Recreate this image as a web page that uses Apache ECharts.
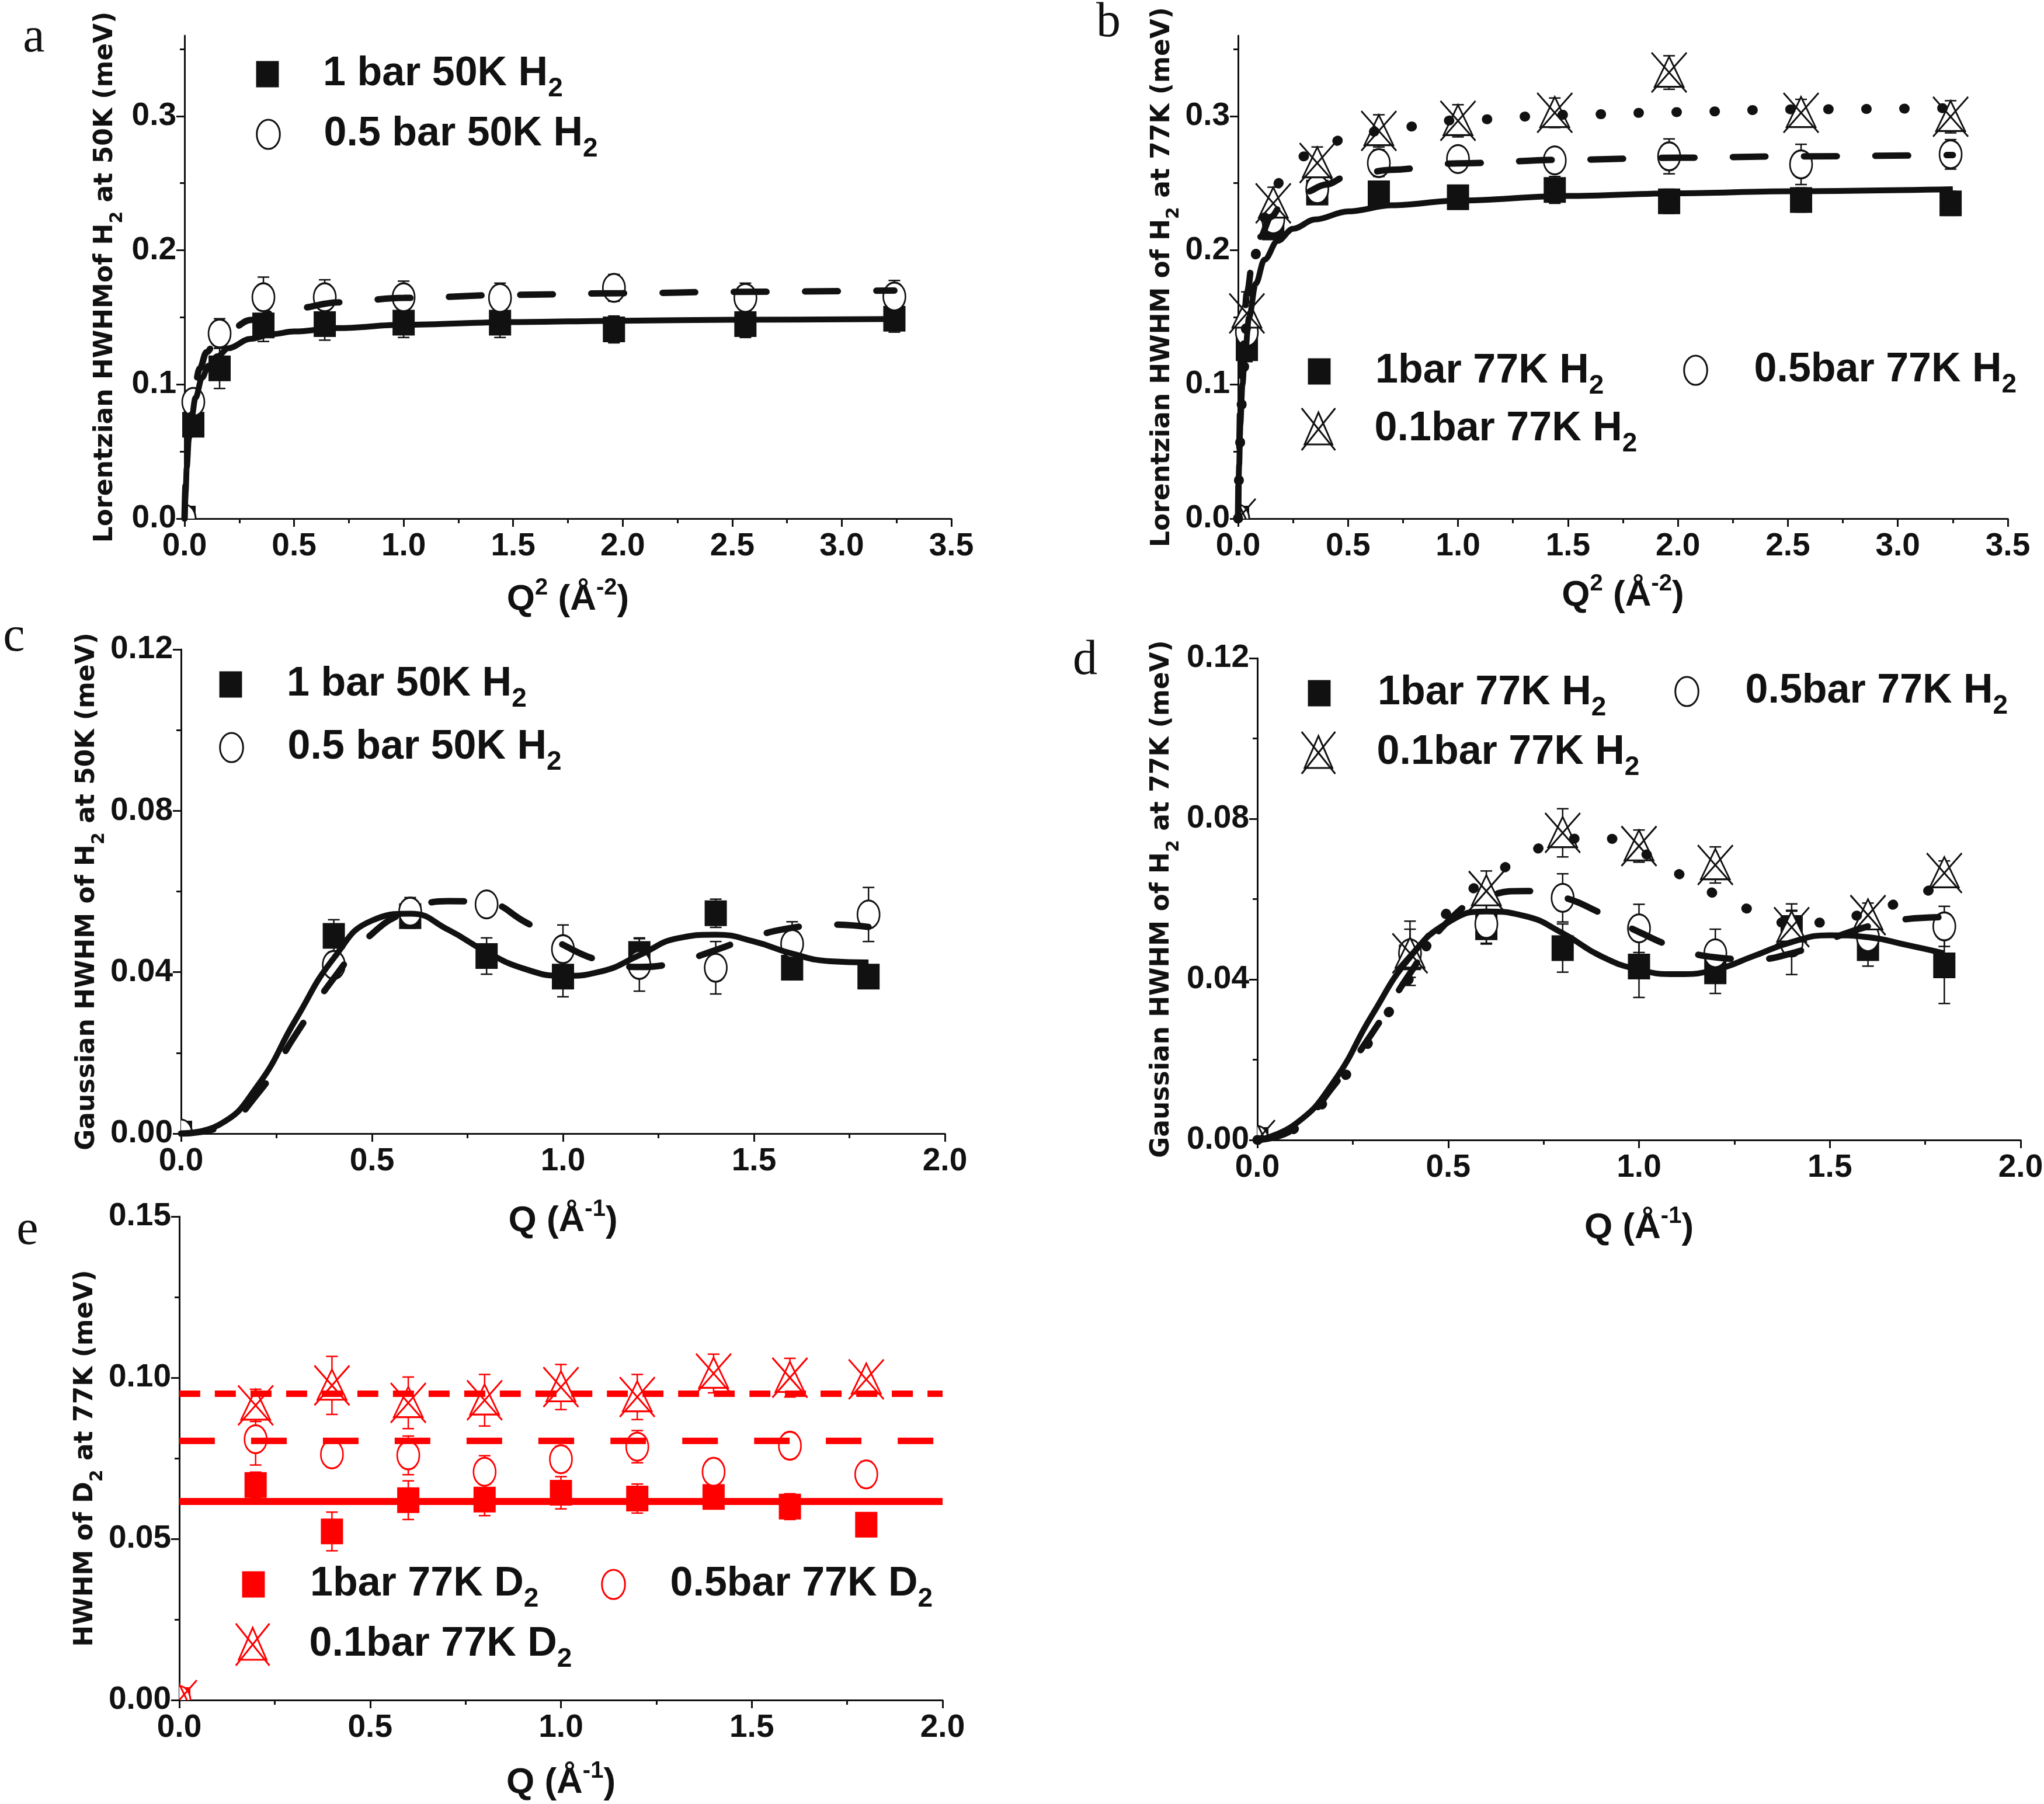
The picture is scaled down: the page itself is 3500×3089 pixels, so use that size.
<!DOCTYPE html>
<html>
<head>
<meta charset="utf-8">
<script src="https://cdn.jsdelivr.net/npm/echarts@6/dist/echarts.min.js"></script>
<style>
  html, body { margin: 0; padding: 0; background: #fff; }
  #chart { width: 3500px; height: 3089px; }
</style>
</head>
<body>
<div id="chart"></div>
<script>
// ── tick values ──
var abXTicks = [0, 0.5, 1.0, 1.5, 2.0, 2.5, 3.0, 3.5];
var abXMinor = [0.25, 0.75, 1.25, 1.75, 2.25, 2.75, 3.25];
var abYTicks = [0, 0.1, 0.2, 0.3];
var abYMinor = [0.05, 0.15, 0.25, 0.35];
var cdeXTicks = [0, 0.5, 1.0, 1.5, 2.0];
var cdeXMinor = [0.25, 0.75, 1.25, 1.75];
var cdYTicks = [0, 0.04, 0.08, 0.12];
var cdYMinor = [0.02, 0.06, 0.10];
var eYTicks = [0, 0.05, 0.10, 0.15];
var eYMinor = [0.025, 0.075, 0.125];

// ── panel a : Lorentzian HWHM, 50 K (x = Q^2) ──
var q2Pts = [0, 0.04, 0.16, 0.36, 0.64, 1.0, 1.44, 1.96, 2.56, 3.24];
var aHwhm1bar = [0, 0.070, 0.112, 0.144, 0.145, 0.146, 0.146, 0.141, 0.145, 0.149];
var aErr1bar = [0, 0.008, 0.015, 0.012, 0.012, 0.011, 0.011, 0.010, 0.010, 0.010];
var aHwhm05bar = [0, 0.087, 0.138, 0.165, 0.165, 0.165, 0.1645, 0.172, 0.1645, 0.1655];
var aErr05bar = [0, 0.009, 0.011, 0.015, 0.013, 0.012, 0.011, 0.010, 0.011, 0.012];
var aFit1barX = [0, 0.005, 0.01, 0.02, 0.03, 0.05, 0.08, 0.11, 0.15, 0.2, 0.3, 0.4, 0.5, 0.7, 1.0, 1.5, 2.0, 2.5, 3.24];
var aFit1barY = [0, 0.02, 0.038, 0.06, 0.073, 0.09, 0.105, 0.114, 0.121, 0.127, 0.134, 0.1375, 0.1395, 0.142, 0.1445, 0.1465, 0.1475, 0.1482, 0.1488];
var aFit05barX = [0, 0.005, 0.01, 0.02, 0.04, 0.07, 0.1, 0.15, 0.2, 0.3, 0.4, 0.5, 0.7, 1.0, 1.5, 2.0, 2.5, 3.24];
var aFit05barY = [0, 0.025, 0.045, 0.07, 0.094, 0.112, 0.124, 0.134, 0.14, 0.148, 0.153, 0.1565, 0.1612, 0.1645, 0.1668, 0.168, 0.169, 0.17];

// ── panel b : Lorentzian HWHM, 77 K (x = Q^2) ──
var bHwhm1bar = [0, 0.127, 0.217, 0.243, 0.2425, 0.2395, 0.245, 0.2365, 0.2375, 0.235];
var bErr1bar = [0, 0.010, 0.008, 0.008, 0.009, 0.008, 0.010, 0.009, 0.009, 0.009];
var bHwhm05bar = [0, 0.139, 0.223, 0.2455, 0.265, 0.268, 0.267, 0.270, 0.264, 0.2715];
var bErr05bar = [0, 0.010, 0.010, 0.010, 0.010, 0.009, 0.009, 0.013, 0.015, 0.011];
var bHwhm01bar = [0, 0.153, 0.235, 0.265, 0.289, 0.2965, 0.3025, 0.3325, 0.3025, 0.2995];
var bErr01bar = [0, 0.016, 0.012, 0.012, 0.012, 0.012, 0.011, 0.0125, 0.010, 0.012];
var bFit1barX = [0, 0.005, 0.01, 0.02, 0.03, 0.05, 0.08, 0.12, 0.18, 0.25, 0.35, 0.5, 0.7, 1.0, 1.5, 2.0, 2.5, 3.25];
var bFit1barY = [0, 0.04, 0.07, 0.1, 0.12, 0.15, 0.175, 0.193, 0.207, 0.216, 0.223, 0.229, 0.2335, 0.237, 0.2405, 0.2425, 0.244, 0.2455];
var bFitX = [0, 0.005, 0.01, 0.02, 0.04, 0.07, 0.1, 0.15, 0.2, 0.3, 0.4, 0.5, 0.7, 1.0, 1.5, 2.0, 2.5, 3.25];
var bFit05barY = [0, 0.05, 0.085, 0.125, 0.168, 0.197, 0.21, 0.225, 0.234, 0.243, 0.249, 0.2555, 0.26, 0.2648, 0.2675, 0.269, 0.27, 0.271];
var bFit01barY = [0, 0.032, 0.058, 0.097, 0.148, 0.19, 0.215, 0.24, 0.253, 0.27, 0.279, 0.284, 0.291, 0.297, 0.301, 0.303, 0.305, 0.306];

// ── panel c : Gaussian HWHM, 50 K (x = Q) ──
var qPtsCD = [0, 0.4, 0.6, 0.8, 1.0, 1.2, 1.4, 1.6, 1.8];
var cHwhm1bar = [0, 0.049, 0.0539, 0.044, 0.0389, 0.0445, 0.0546, 0.0411, 0.0389];
var cErr1bar = [0, 0.004, 0.003, 0.0045, 0.005, 0.004, 0.0035, 0.003, 0.0025];
var cHwhm05bar = [0, 0.0418, 0.055, 0.0568, 0.0457, 0.0418, 0.0411, 0.047, 0.0543];
var cErr05bar = [0, 0.002, 0.0035, 0.002, 0.006, 0.0065, 0.0065, 0.0055, 0.0067];
var cdFitX = [0, 0.1, 0.2, 0.3, 0.4, 0.5, 0.6, 0.7, 0.8, 0.9, 1.0, 1.1, 1.2, 1.3, 1.4, 1.5, 1.6, 1.7, 1.8];
var cFit1barY = [0, 0.0022, 0.0118, 0.0282, 0.0435, 0.0528, 0.0545, 0.0505, 0.045, 0.0408, 0.0391, 0.0402, 0.0442, 0.0484, 0.0493, 0.0476, 0.0446, 0.0427, 0.0424];
var cFit05barY = [0, 0.0015, 0.0098, 0.0245, 0.0385, 0.0495, 0.0553, 0.0576, 0.0572, 0.0525, 0.0468, 0.0428, 0.0413, 0.0425, 0.0455, 0.0488, 0.051, 0.0518, 0.0512];

// ── panel d : Gaussian HWHM, 77 K (x = Q) ──
var dHwhm1bar = [0, 0.0455, 0.053, 0.0478, 0.0432, 0.042, 0.0528, 0.0478, 0.0435];
var dErr1bar = [0, 0.003, 0.004, 0.006, 0.0077, 0.0055, 0.006, 0.0045, 0.0095];
var dHwhm05bar = [0, 0.0465, 0.0538, 0.0603, 0.0527, 0.0465, 0.0492, 0.0505, 0.0532];
var dErr05bar = [0, 0.008, 0.005, 0.006, 0.006, 0.006, 0.008, 0.005, 0.005];
var dHwhm01bar = [0, 0.0465, 0.062, 0.0765, 0.0732, 0.0685, 0.053, 0.056, 0.0665];
var dErr01bar = [0, 0.006, 0.005, 0.006, 0.004, 0.0045, 0.004, 0.003, 0.003];
var dFit1barY = [0, 0.004, 0.0145, 0.031, 0.0455, 0.0542, 0.0569, 0.0558, 0.0515, 0.0458, 0.0424, 0.0413, 0.0424, 0.0458, 0.0493, 0.051, 0.0505, 0.0486, 0.0465];
var dFit05barY = [0, 0.003, 0.0135, 0.0265, 0.0415, 0.0545, 0.0605, 0.062, 0.0605, 0.0565, 0.0518, 0.0478, 0.0455, 0.045, 0.0465, 0.05, 0.0532, 0.055, 0.0555];
var dFit01barY = [0, 0.003, 0.0125, 0.0255, 0.0405, 0.057, 0.0648, 0.0705, 0.0748, 0.0752, 0.072, 0.0665, 0.0612, 0.057, 0.054, 0.0543, 0.0568, 0.0598, 0.064];

// ── panel e : HWHM of D2, 77 K (x = Q) ──
var qPtsE = [0, 0.2, 0.4, 0.6, 0.8, 1.0, 1.2, 1.4, 1.6, 1.8];
var eHwhm1bar = [0, 0.0667, 0.0523, 0.062, 0.0622, 0.0643, 0.0625, 0.063, 0.060, 0.0544];
var eErr1bar = [0, 0.004, 0.006, 0.006, 0.005, 0.005, 0.0045, 0.0035, 0.004, 0];
var eHwhm05bar = [0, 0.0809, 0.0762, 0.0759, 0.0708, 0.0747, 0.0786, 0.0708, 0.0789, 0.070];
var eErr05bar = [0, 0.008, 0.003, 0.006, 0.005, 0.004, 0.005, 0.004, 0.004, 0.004];
var eHwhm01bar = [0, 0.0914, 0.0976, 0.0922, 0.093, 0.0971, 0.094, 0.1013, 0.100, 0.0995];
var eErr01bar = [0, 0.005, 0.009, 0.008, 0.008, 0.007, 0.007, 0.006, 0.006, 0.002];
var eFitX = [0, 2.0];
var eFit1bar = [0.0616, 0.0616];
var eFit05bar = [0.0804, 0.0804];
var eFit01bar = [0.095, 0.095];

var INK = '#111';
var RED = '#ff0000';
var SANS = '"Liberation Sans", Arial, sans-serif';
var WIDE = '"DejaVu Sans", sans-serif';
var SERIF = '"Liberation Serif", "DejaVu Serif", serif';

// marker shapes (path, size on the plot, legend icon height, aspect of the path box)
var SQUARE = { path: 'path://M0,0L38,0L38,44L0,44Z', size: [38, 44], open: false, lh: 45, aspect: 38 / 44 };
var CIRCLE = { path: 'path://M0,24C0,10.7,8.5,0,19,0C29.5,0,38,10.7,38,24C38,37.3,29.5,48,19,48C8.5,48,0,37.3,0,24Z', size: [38, 48], open: true, lh: 50, aspect: 38 / 48 };
var TRIX = { path: 'path://M44,10L77,86L11,86Z M4,0L84,100 M84,0L4,100', size: [60, 68], open: true, lh: 72, aspect: 0.88 };

var SOLID = { width: 10, type: 'solid' };
var DASH = { width: 11, type: [56, 66], cap: 'round' };
var DOT = { width: 17, type: [1, 64], cap: 'round' };

var option = {
  animation: false,
  backgroundColor: '#fff',
  grid: [], xAxis: [], yAxis: [], series: [], legend: [], graphic: []
};

function tickStyle(len) { return { show: true, inside: false, length: len, lineStyle: { color: INK, width: 3 } }; }

function addAxes(gi, dim, max, ticks, minors, dec, name, gap, nameStyle) {
  var isX = dim === 'x';
  var main = {
    gridIndex: gi, type: 'value', position: isX ? 'bottom' : 'left',
    min: 0, max: max, interval: ticks[1] - ticks[0],
    axisLine: { show: true, onZero: false, lineStyle: { color: INK, width: 3 } },
    axisTick: Object.assign(tickStyle(14), { customValues: ticks }),
    axisLabel: {
      show: true, customValues: ticks, margin: isX ? 20 : 14,
      formatter: function (v) { return v.toFixed(dec); },
      color: INK, fontFamily: SANS, fontWeight: 'bold', fontSize: 55
    },
    splitLine: { show: false },
    name: name, nameLocation: 'middle', nameGap: gap,
    nameRotate: isX ? 0 : 90,
    nameTextStyle: nameStyle
  };
  var minor = {
    gridIndex: gi, type: 'value', position: isX ? 'bottom' : 'left',
    min: 0, max: max,
    axisLine: { show: false, onZero: false },
    axisTick: Object.assign(tickStyle(8), { customValues: minors }),
    axisLabel: { show: false },
    splitLine: { show: false }
  };
  (isX ? option.xAxis : option.yAxis).push(main, minor);
}

var xNameStyle = {
  color: INK, fontFamily: SANS, fontWeight: 'bold', fontSize: 62, lineHeight: 100,
  rich: { p: { color: INK, fontFamily: SANS, fontWeight: 'bold', fontSize: 40, lineHeight: 60, padding: [0, 0, 40, 0] } }
};
var yNameStyle = {
  color: INK, fontFamily: WIDE, fontWeight: 'bold', fontSize: 44, lineHeight: 70,
  rich: { s: { color: INK, fontFamily: WIDE, fontWeight: 'bold', fontSize: 30, lineHeight: 30, padding: [40, 0, 0, 0] } }
};

function pairs(xs, ys) { return xs.map(function (x, i) { return [x, ys[i]]; }); }

function markStyle(shape, color) {
  return shape.open ? { fill: '#fff', stroke: color, lineWidth: 3 } : { fill: color };
}

function scatter(gi, name, xs, ys, shape, color) {
  var all = pairs(xs, ys);
  option.series.push({
    type: 'scatter', name: name, xAxisIndex: 2 * gi, yAxisIndex: 2 * gi,
    data: all.filter(function (p) { return p[0] > 0; }),
    symbol: shape.path, symbolSize: shape.size, z: 3,
    itemStyle: shape.open
      ? { color: '#fff', borderColor: color, borderWidth: 3, opacity: 1 }
      : { color: color, borderWidth: 0, opacity: 1 },
    emphasis: { disabled: true }
  });
  // the point at the origin is drawn clipped by the plot area, as in the figure
  option.series.push({
    type: 'custom', xAxisIndex: 2 * gi, yAxisIndex: 2 * gi, z: 3, silent: true, clip: true,
    data: all.filter(function (p) { return p[0] === 0; }),
    encode: { x: 0, y: 1 },
    renderItem: function (params, api) {
      var c = api.coord([api.value(0), api.value(1)]);
      var w = shape.size[0], h = shape.size[1];
      return { type: 'path', shape: { pathData: shape.path.slice(7), x: c[0] - w / 2, y: c[1] - h / 2, width: w, height: h, layout: 'cover' }, style: markStyle(shape, color) };
    }
  });
}

function errBars(gi, xs, ys, errs, color) {
  option.series.push({
    type: 'custom', xAxisIndex: 2 * gi, yAxisIndex: 2 * gi, z: 2, silent: true,
    data: xs.map(function (x, i) { return [x, ys[i], errs[i]]; }),
    encode: { x: 0, y: 1 },
    renderItem: function (params, api) {
      var x = api.value(0), y = api.value(1), e = api.value(2);
      if (!e) return null;
      var t = api.coord([x, y + e]), b = api.coord([x, y - e]);
      var st = { stroke: color, lineWidth: 2.5 };
      return { type: 'group', children: [
        { type: 'line', shape: { x1: t[0], y1: t[1], x2: b[0], y2: b[1] }, style: st },
        { type: 'line', shape: { x1: t[0] - 10, y1: t[1], x2: t[0] + 10, y2: t[1] }, style: st },
        { type: 'line', shape: { x1: b[0] - 10, y1: b[1], x2: b[0] + 10, y2: b[1] }, style: st }
      ] };
    }
  });
}

function fitLine(gi, xs, ys, color, ls, mono) {
  option.series.push({
    type: 'line', xAxisIndex: 2 * gi, yAxisIndex: 2 * gi, data: pairs(xs, ys),
    showSymbol: false, symbol: 'none', smooth: mono ? 0.35 : 0.5, smoothMonotone: mono ? 'x' : null,
    z: 4, silent: true,
    lineStyle: Object.assign({ color: color }, ls)
  });
}

// cx, cy: centre of the legend marker; tx: left edge of the legend text
function legendItem(name, shape, cx, cy, tx) {
  var W = 2 * (tx - 5 - cx);
  var iconW = shape.lh * shape.aspect;
  var LH = 100;
  option.legend.push({
    data: [name], left: cx - iconW / 2, top: cy - Math.max(shape.lh, LH) / 2,
    padding: 0, itemGap: 0, itemWidth: W, itemHeight: shape.lh, selectedMode: false,
    symbolKeepAspect: true,
    itemStyle: { borderWidth: shape.open ? 3 : 0 },
    formatter: function (n) { return '{m|' + n.slice(0, -1) + '}{s|' + n.slice(-1) + '}'; },
    textStyle: {
      color: INK, fontFamily: SANS, fontWeight: 'bold', fontSize: 70,
      rich: {
        m: { color: INK, fontFamily: SANS, fontWeight: 'bold', fontSize: 70, lineHeight: LH },
        s: { color: INK, fontFamily: SANS, fontWeight: 'bold', fontSize: 46, lineHeight: 50, padding: [50, 0, 0, 0] }
      }
    }
  });
}

function addGrid(box) {
  option.grid.push({ left: box[0], top: box[1], width: box[2] - box[0], height: box[3] - box[1], containLabel: false, outerBoundsMode: 'none' });
  return option.grid.length - 1;
}

function letter(t, x, y) {
  option.graphic.push({ type: 'text', x: x, y: y, style: { text: t, fill: INK, font: '84px ' + SERIF, textAlign: 'center', textVerticalAlign: 'middle' } });
}

// panel a
var ga = addGrid([316, 61, 1629, 888]);
addAxes(ga, 'x', 3.5, abXTicks, abXMinor, 1, 'Q{p|2} (Å{p|-2})', 89, xNameStyle);
addAxes(ga, 'y', 0.36, abYTicks, abYMinor, 1, 'Lorentzian HWHMof H{s|2} at 50K (meV)', 100, yNameStyle);
fitLine(ga, aFit1barX, aFit1barY, INK, SOLID, true);
fitLine(ga, aFit05barX, aFit05barY, INK, DASH, true);
errBars(ga, q2Pts, aHwhm1bar, aErr1bar, INK);
errBars(ga, q2Pts, aHwhm05bar, aErr05bar, INK);
scatter(ga, '1 bar 50K H2', q2Pts, aHwhm1bar, SQUARE, INK);
scatter(ga, '0.5 bar 50K H2', q2Pts, aHwhm05bar, CIRCLE, INK);
legendItem('1 bar 50K H2', SQUARE, 458, 129, 553);
legendItem('0.5 bar 50K H2', CIRCLE, 458, 232, 553);

// panel b
var gb = addGrid([2120, 61, 3438, 888]);
addAxes(gb, 'x', 3.5, abXTicks, abXMinor, 1, 'Q{p|2} (Å{p|-2})', 82, xNameStyle);
addAxes(gb, 'y', 0.36, abYTicks, abYMinor, 1, 'Lorentzian HWHM of H{s|2} at 77K (meV)', 85, yNameStyle);
fitLine(gb, bFit1barX, bFit1barY, INK, SOLID, true);
fitLine(gb, bFitX, bFit05barY, INK, DASH, true);
fitLine(gb, bFitX, bFit01barY, INK, DOT, true);
errBars(gb, q2Pts, bHwhm1bar, bErr1bar, INK);
errBars(gb, q2Pts, bHwhm05bar, bErr05bar, INK);
errBars(gb, q2Pts, bHwhm01bar, bErr01bar, INK);
scatter(gb, '1bar 77K H2', q2Pts, bHwhm1bar, SQUARE, INK);
scatter(gb, '0.5bar 77K H2', q2Pts, bHwhm05bar, CIRCLE, INK);
scatter(gb, '0.1bar 77K H2', q2Pts, bHwhm01bar, TRIX, INK);
legendItem('1bar 77K H2', SQUARE, 2259, 638, 2355);
legendItem('0.5bar 77K H2', CIRCLE, 2902, 636, 3002);
legendItem('0.1bar 77K H2', TRIX, 2259, 737, 2355);

// panel c
var gc = addGrid([310, 1112, 1618, 1941]);
addAxes(gc, 'x', 2.0, cdeXTicks, cdeXMinor, 1, 'Q (Å{p|-1})', 100, xNameStyle);
addAxes(gc, 'y', 0.12, cdYTicks, cdYMinor, 2, 'Gaussian HWHM of H{s|2} at 50K (meV)', 125, yNameStyle);
fitLine(gc, cdFitX, cFit1barY, INK, SOLID, false);
fitLine(gc, cdFitX, cFit05barY, INK, DASH, false);
errBars(gc, qPtsCD, cHwhm1bar, cErr1bar, INK);
errBars(gc, qPtsCD, cHwhm05bar, cErr05bar, INK);
scatter(gc, '1 bar 50K H2', qPtsCD, cHwhm1bar, SQUARE, INK);
scatter(gc, '0.5 bar 50K H2', qPtsCD, cHwhm05bar, CIRCLE, INK);
legendItem('1 bar 50K H2', SQUARE, 395, 1174, 491);
legendItem('0.5 bar 50K H2', CIRCLE, 395, 1282, 491);

// panel d
var gd = addGrid([2153, 1127, 3460, 1952]);
addAxes(gd, 'x', 2.0, cdeXTicks, cdeXMinor, 1, 'Q (Å{p|-1})', 101, xNameStyle);
addAxes(gd, 'y', 0.12, cdYTicks, cdYMinor, 2, 'Gaussian HWHM of H{s|2} at 77K (meV)', 128, yNameStyle);
fitLine(gd, cdFitX, dFit1barY, INK, SOLID, false);
fitLine(gd, cdFitX, dFit05barY, INK, DASH, false);
fitLine(gd, cdFitX, dFit01barY, INK, DOT, false);
errBars(gd, qPtsCD, dHwhm1bar, dErr1bar, INK);
errBars(gd, qPtsCD, dHwhm05bar, dErr05bar, INK);
errBars(gd, qPtsCD, dHwhm01bar, dErr01bar, INK);
scatter(gd, '1bar 77K H2', qPtsCD, dHwhm1bar, SQUARE, INK);
scatter(gd, '0.5bar 77K H2', qPtsCD, dHwhm05bar, CIRCLE, INK);
scatter(gd, '0.1bar 77K H2', qPtsCD, dHwhm01bar, TRIX, INK);
legendItem('1bar 77K H2', SQUARE, 2259, 1189, 2359);
legendItem('0.5bar 77K H2', CIRCLE, 2887, 1186, 2987);
legendItem('0.1bar 77K H2', TRIX, 2259, 1291, 2359);

// panel e
var ge = addGrid([307, 2083, 1614, 2911]);
addAxes(ge, 'x', 2.0, cdeXTicks, cdeXMinor, 1, 'Q (Å{p|-1})', 92, xNameStyle);
addAxes(ge, 'y', 0.15, eYTicks, eYMinor, 2, 'HWHM of D{s|2} at 77K (meV)', 118, yNameStyle);
fitLine(ge, eFitX, eFit1bar, RED, { width: 12, type: 'solid' }, false);
fitLine(ge, eFitX, eFit05bar, RED, { width: 11, type: [61, 62] }, false);
fitLine(ge, eFitX, eFit01bar, RED, { width: 11, type: [36, 25] }, false);
errBars(ge, qPtsE, eHwhm1bar, eErr1bar, RED);
errBars(ge, qPtsE, eHwhm05bar, eErr05bar, RED);
errBars(ge, qPtsE, eHwhm01bar, eErr01bar, RED);
scatter(ge, '1bar 77K D2', qPtsE, eHwhm1bar, SQUARE, RED);
scatter(ge, '0.5bar 77K D2', qPtsE, eHwhm05bar, CIRCLE, RED);
scatter(ge, '0.1bar 77K D2', qPtsE, eHwhm01bar, TRIX, RED);
legendItem('1bar 77K D2', SQUARE, 434, 2715, 531);
legendItem('0.5bar 77K D2', CIRCLE, 1049, 2715, 1146);
legendItem('0.1bar 77K D2', TRIX, 434, 2818, 531);

letter('a', 58, 66);
letter('b', 1898, 40);
letter('c', 24, 1092);
letter('d', 1858, 1132);
letter('e', 47, 2108);

var chart = echarts.init(document.getElementById('chart'), null, { renderer: 'canvas' });
chart.setOption(option);
</script>
</body>
</html>
